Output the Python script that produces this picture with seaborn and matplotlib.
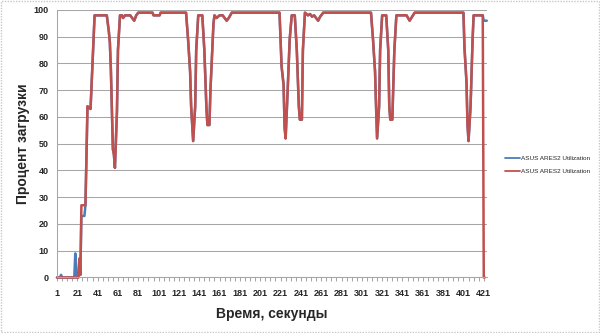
import matplotlib
matplotlib.use("Agg")
import matplotlib.pyplot as plt
import pandas as pd
import seaborn as sns

# ---- data ----
series_label = "ASUS ARES2 Utilization"
x_label = "Время, секунды"
y_label = "Процент загрузки"

x_tick_values = list(range(1, 422, 20))
y_tick_values = list(range(0, 101, 10))

# start of run, differs between the two series
blue_start_t = [1, 4, 5, 6, 18, 19, 20, 22, 23, 24, 25, 28, 29, 31]
blue_start_v = [0, 0, 1, 0, 0, 9, 0, 0, 7, 1, 23, 23, 27, 64]
red_start_t = [1, 22, 23, 24, 25, 29, 31]
red_start_v = [0, 0, 7, 1, 27, 27, 64]

# shared main profile
main_t = [34, 38, 50, 52, 53, 54, 56, 57, 58, 60, 61, 63, 65, 66, 68, 73, 77, 79, 81,
          95, 96, 102, 103, 128, 130, 132, 133, 135, 137, 138, 140, 144, 146, 148,
          149, 151, 152, 155, 156, 158, 161, 164, 166, 168, 170, 173, 220, 222, 224,
          225, 226, 228, 230, 232, 235, 237, 239, 240, 242, 243, 245, 248, 250, 252,
          254, 255, 258, 260, 263, 310, 312, 314, 315, 316, 318, 319, 321, 325, 327,
          328, 329, 331, 333, 335, 345, 348, 353, 401, 402, 404, 405, 406, 408, 410,
          411, 419, 420]
main_v = [63, 98, 98, 92, 88, 78, 48, 46, 41, 62, 85, 98, 98, 97, 98, 98, 96, 98, 99,
          99, 98, 98, 99, 99, 89, 77, 64, 51, 64, 85, 98, 98, 85, 64,
          57, 57, 70, 95, 98, 97, 98, 98, 97, 96, 97, 99, 99, 79, 72,
          56, 52, 70, 89, 98, 98, 85, 64, 59, 59, 85, 99, 98, 98.5, 97.5,
          98, 97.5, 96, 97.5, 99, 99, 89, 77, 64, 52, 64, 85, 98, 98, 85,
          64, 59, 59, 85, 98, 98, 96, 99, 99, 86, 73, 57, 51, 64, 89,
          98, 98, 98]

# end of run
blue_end_t = [421, 424]
blue_end_v = [96, 96]
red_end_t = [421, 422]
red_end_v = [0, 0]

BLUE = "#4a7ebb"
RED = "#c0504d"
GRID = "#a6a6a6"

blue_df = pd.DataFrame({"t": blue_start_t + main_t + blue_end_t,
                        "v": blue_start_v + main_v + blue_end_v})
red_df = pd.DataFrame({"t": red_start_t + main_t + red_end_t,
                       "v": red_start_v + main_v + red_end_v})

sns.set_theme(style="white")
plt.rcParams["font.family"] = ["Liberation Sans", "DejaVu Sans"]

fig = plt.figure(figsize=(6, 3.33), dpi=100)
ax = fig.add_axes([0.095, 0.1667, 0.7167, 0.8033])

sns.lineplot(data=blue_df, x="t", y="v", ax=ax, color=BLUE, linewidth=1.8,
             label=series_label, estimator=None, sort=False)
sns.lineplot(data=red_df, x="t", y="v", ax=ax, color=RED, linewidth=1.8,
             label=series_label, estimator=None, sort=False)
for ln in ax.get_lines():
    ln.set_clip_on(False)

ax.set_xlim(1, 424.2)
ax.set_ylim(0, 100)
ax.set_xticks(x_tick_values, [str(v) for v in x_tick_values],
              fontsize=6.5, fontweight="bold")
ax.set_xticks(list(range(1, 422, 5)), minor=True)
ax.set_yticks(y_tick_values, [str(v) for v in y_tick_values],
              fontsize=6.5, fontweight="bold")

ax.grid(axis="y", color=GRID, linewidth=0.75)
ax.grid(axis="x", visible=False)
ax.set_axisbelow(True)
for s in ["top", "right"]:
    ax.spines[s].set_visible(False)
for s in ["left", "bottom"]:
    ax.spines[s].set_color(GRID)
    ax.spines[s].set_linewidth(0.75)

ax.tick_params(axis="x", which="both", direction="out", length=3, width=0.75,
               color=GRID, pad=5, bottom=True)
ax.tick_params(axis="y", length=0, pad=6)

ax.set_xlabel(x_label, fontsize=10, fontweight="bold")
ax.set_ylabel(y_label, fontsize=10, fontweight="bold")
ax.xaxis.set_label_coords(0.5, -0.112)
ax.yaxis.set_label_coords(-0.063, 0.5)

leg = ax.legend(loc="upper left", bbox_to_anchor=(0.8417, 0.532),
                bbox_transform=fig.transFigure, frameon=False, fontsize=4.6,
                handlelength=2.37, handletextpad=0.15, labelspacing=1.2,
                borderpad=0, borderaxespad=0)
for h in leg.get_lines():
    h.set_linewidth(1.3)

fig.add_artist(plt.Rectangle((0.001, 0.002), 0.997, 0.995,
                             transform=fig.transFigure, fill=False,
                             edgecolor="#c8c8c8", linewidth=1,
                             linestyle=(0, (1, 1))))

fig.savefig("out.png", dpi=100)
